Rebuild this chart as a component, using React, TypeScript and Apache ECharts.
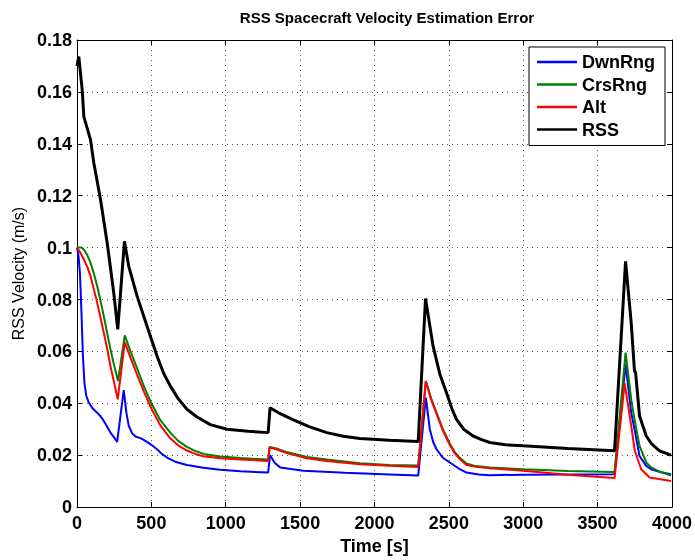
import React, { useEffect, useRef } from "react";
import * as echarts from "echarts";

// Time [s] vs velocity error [m/s]
const dwnRng: [number, number][] = [
  [0, 0.1], [10, 0.097], [20, 0.09], [30, 0.075], [40, 0.058], [50, 0.048], [62, 0.043],
  [79, 0.0403], [105, 0.038], [136, 0.0364], [158, 0.035], [180, 0.0332], [203, 0.031],
  [225, 0.0287], [250, 0.0268], [270, 0.0251], [292, 0.0351], [314, 0.0451], [332, 0.0364],
  [348, 0.0313], [370, 0.0285], [393, 0.0272], [430, 0.0265], [460, 0.0255], [500, 0.024],
  [538, 0.0223], [570, 0.0205], [605, 0.0191], [660, 0.0175], [739, 0.0162], [850, 0.0152],
  [963, 0.0144], [1100, 0.0138], [1285, 0.0133], [1298, 0.02], [1330, 0.017], [1366, 0.0153],
  [1450, 0.0146], [1522, 0.014], [1800, 0.0132], [2100, 0.0126], [2294, 0.0122],
  [2345, 0.0422], [2372, 0.03], [2395, 0.025], [2417, 0.0223], [2460, 0.019], [2506, 0.0172],
  [2574, 0.0146], [2618, 0.0133], [2700, 0.0126], [2775, 0.0123], [3000, 0.0125],
  [3300, 0.0126], [3614, 0.0127], [3688, 0.055], [3726, 0.0364], [3748, 0.03], [3782, 0.0197],
  [3827, 0.0159], [3860, 0.0146], [3920, 0.0135], [3994, 0.0127],
];

const crsRng: [number, number][] = [
  [0, 0.1], [30, 0.1], [46, 0.0992], [70, 0.097], [91, 0.0941], [113, 0.09], [136, 0.0851],
  [158, 0.0795], [180, 0.0736], [203, 0.067], [225, 0.0608], [250, 0.0545], [276, 0.0486],
  [321, 0.0662], [360, 0.06], [404, 0.0535], [450, 0.0465], [500, 0.04], [560, 0.0335],
  [627, 0.0287], [680, 0.0255], [739, 0.0232], [800, 0.0215], [851, 0.0205], [963, 0.0195],
  [1100, 0.0189], [1285, 0.0183], [1295, 0.0232], [1340, 0.0226], [1410, 0.0212],
  [1545, 0.0193], [1679, 0.0183], [1902, 0.0169], [2100, 0.0162], [2294, 0.016],
  [2345, 0.0486], [2380, 0.042], [2417, 0.0364], [2460, 0.03], [2506, 0.0245], [2540, 0.0212],
  [2574, 0.019], [2618, 0.0168], [2680, 0.0158], [2775, 0.0153], [3000, 0.0146],
  [3300, 0.0139], [3614, 0.0135], [3688, 0.0595], [3726, 0.0415], [3748, 0.0338],
  [3782, 0.0236], [3827, 0.0172], [3860, 0.0153], [3916, 0.0137], [3994, 0.0122],
];

const alt: [number, number][] = [
  [0, 0.1], [23, 0.098], [46, 0.0954], [70, 0.0925], [91, 0.089], [113, 0.084], [136, 0.0787],
  [158, 0.073], [180, 0.0672], [203, 0.061], [225, 0.0543], [250, 0.0478], [274, 0.0415],
  [321, 0.0636], [360, 0.0575], [404, 0.051], [450, 0.0445], [500, 0.038], [560, 0.0315],
  [627, 0.0265], [680, 0.0238], [739, 0.0218], [800, 0.0204], [851, 0.0196], [963, 0.0188],
  [1100, 0.0183], [1285, 0.0178], [1295, 0.023], [1340, 0.0223], [1410, 0.0208],
  [1545, 0.0188], [1679, 0.0178], [1902, 0.0165], [2100, 0.0159], [2294, 0.0155],
  [2345, 0.0486], [2380, 0.0415], [2417, 0.036], [2460, 0.0295], [2506, 0.024], [2540, 0.0207],
  [2574, 0.0185], [2618, 0.0162], [2680, 0.0155], [2775, 0.015], [3000, 0.014], [3300, 0.0125],
  [3614, 0.0112], [3682, 0.0477], [3726, 0.0313], [3750, 0.0217], [3793, 0.0146],
  [3849, 0.0114], [3994, 0.0101],
];

const rss: [number, number][] = [
  [0, 0.17], [12, 0.1736], [35, 0.1608], [46, 0.1505], [91, 0.1415], [113, 0.1326],
  [158, 0.1185], [203, 0.1018], [247, 0.0826], [274, 0.0685], [319, 0.1024],
  [348, 0.0928], [404, 0.0813], [471, 0.0697], [538, 0.0582], [583, 0.0515], [627, 0.0467],
  [680, 0.0418], [739, 0.0377], [807, 0.0347], [896, 0.0318], [1008, 0.03], [1150, 0.0292],
  [1285, 0.0287], [1298, 0.0383], [1366, 0.036], [1455, 0.0336], [1560, 0.031],
  [1679, 0.0287], [1790, 0.0273], [1902, 0.0264], [2100, 0.0258], [2294, 0.0253],
  [2343, 0.0804], [2394, 0.062], [2439, 0.0513], [2484, 0.0441], [2520, 0.038],
  [2551, 0.0338], [2600, 0.03], [2663, 0.0274], [2720, 0.026], [2775, 0.0249],
  [2880, 0.024], [2998, 0.0236], [3300, 0.0226], [3614, 0.0217], [3688, 0.0947],
  [3726, 0.071], [3748, 0.0524], [3755, 0.052], [3782, 0.0351], [3827, 0.0274],
  [3860, 0.0246], [3916, 0.0217], [3994, 0.02],
];

const seriesNames = ["DwnRng", "CrsRng", "Alt", "RSS"];
const seriesColors = ["#0000ff", "#008000", "#ff0000", "#000000"];
const seriesWidths = [2, 2, 2, 3];
const seriesData = [dwnRng, crsRng, alt, rss];

const FONT = '"Liberation Sans", Arial, Helvetica, sans-serif';

export default function App() {
  const ref = useRef<HTMLDivElement>(null);
  useEffect(() => {
    document.body.style.margin = "0";
    const chart = echarts.init(ref.current!, null, { renderer: "svg" });
    const gridLine = { show: true, lineStyle: { color: "#555", width: 1, type: [1, 4] as any } };
    const axisLine = { show: true, onZero: false, lineStyle: { color: "#000", width: 1 } };
    const tick = { show: true, inside: true, length: 5, lineStyle: { color: "#000" } };
    const tickFont = { fontFamily: FONT, fontSize: 18, fontWeight: "bold", color: "#000" };
    chart.setOption({
      animation: false,
      textStyle: { fontFamily: FONT },
      title: {
        text: "RSS Spacecraft Velocity Estimation Error",
        left: 387,
        top: 10,
        padding: 0,
        textAlign: "center",
        textStyle: { fontFamily: FONT, fontSize: 15, fontWeight: "bold", color: "#000" },
      },
      legend: {
        data: seriesNames.map((name, i) => ({ name, icon: "rect", itemStyle: { color: seriesColors[i] } })),
        orient: "vertical",
        left: 529,
        top: 47,
        padding: [6, 10, 7, 8],
        itemWidth: 40,
        itemHeight: 2.5,
        itemGap: 4.5,
        backgroundColor: "#fff",
        borderColor: "#000",
        borderWidth: 1,
        textStyle: { fontFamily: FONT, fontSize: 18, fontWeight: "bold", color: "#000", lineHeight: 18 },
      },
      grid: { left: 77, right: 22.5, top: 40, bottom: 52 },
      xAxis: [
        {
          type: "value",
          min: 0,
          max: 4000,
          interval: 500,
          axisLine,
          axisTick: tick,
          splitLine: gridLine,
          axisLabel: { ...tickFont, margin: 7, formatter: (v: number) => String(v) },
          name: "Time [s]",
          nameLocation: "middle",
          nameGap: 29,
          nameTextStyle: { fontFamily: FONT, fontSize: 18, fontWeight: "bold", color: "#000" },
        },
        {
          type: "value",
          position: "top",
          min: 0,
          max: 4000,
          interval: 500,
          axisLine,
          axisTick: tick,
          splitLine: { show: false },
          axisLabel: { show: false },
        },
      ],
      yAxis: [
        {
          type: "value",
          min: 0,
          max: 0.18,
          interval: 0.02,
          axisLine,
          axisTick: tick,
          splitLine: gridLine,
          axisLabel: { ...tickFont, margin: 5 },
          name: "RSS Velocity (m/s)",
          nameLocation: "middle",
          nameGap: 49,
          nameTextStyle: { fontFamily: FONT, fontSize: 16, fontWeight: "normal", color: "#000" },
        },
        {
          type: "value",
          position: "right",
          min: 0,
          max: 0.18,
          interval: 0.02,
          axisLine,
          axisTick: tick,
          splitLine: { show: false },
          axisLabel: { show: false },
        },
      ],
      series: seriesNames.map((name, i) => ({
        name,
        type: "line",
        xAxisIndex: 0,
        yAxisIndex: 0,
        data: seriesData[i],
        symbol: "none",
        color: seriesColors[i],
        lineStyle: { color: seriesColors[i], width: seriesWidths[i] },
      })),
    });
    return () => chart.dispose();
  }, []);
  return <div ref={ref} style={{ width: 695, height: 560, position: "fixed", left: 0, top: 0 }} />;
}
